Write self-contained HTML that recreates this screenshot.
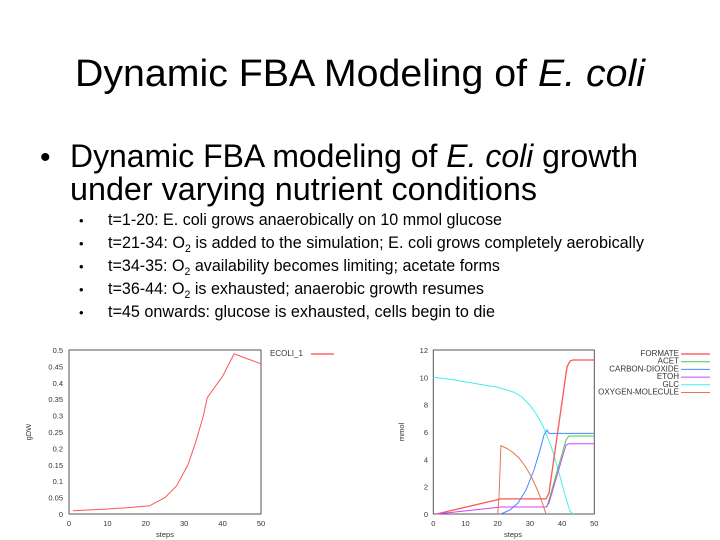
<!DOCTYPE html>
<html><head><meta charset="utf-8"><style>
html,body{margin:0;padding:0;background:#fff;}
svg{display:block;font-family:"Liberation Sans",sans-serif;}
</style></head><body>
<svg width="720" height="540" viewBox="0 0 720 540" xmlns="http://www.w3.org/2000/svg">
<text x="75" y="86" font-size="38" textLength="570" lengthAdjust="spacingAndGlyphs">Dynamic FBA Modeling of <tspan font-style="italic">E. coli</tspan></text>
<text x="40" y="167" font-size="30">•</text>
<text x="70" y="167" font-size="32" textLength="568" lengthAdjust="spacingAndGlyphs">Dynamic FBA modeling of <tspan font-style="italic">E. coli</tspan> growth</text>
<text x="70" y="200" font-size="32" textLength="467" lengthAdjust="spacingAndGlyphs">under varying nutrient conditions</text>
<g font-size="17">
<text x="79" y="225" font-size="13">•</text><text x="108" y="225" textLength="394" lengthAdjust="spacingAndGlyphs">t=1-20: E. coli grows anaerobically on 10 mmol glucose</text>
<text x="79" y="248" font-size="13">•</text><text x="108" y="248" textLength="536" lengthAdjust="spacingAndGlyphs">t=21-34: O<tspan font-size="11" dy="4">2</tspan><tspan dy="-4"> is added to the simulation; E. coli grows completely aerobically</tspan></text>
<text x="79" y="271" font-size="13">•</text><text x="108" y="271" textLength="392" lengthAdjust="spacingAndGlyphs">t=34-35: O<tspan font-size="11" dy="4">2</tspan><tspan dy="-4"> availability becomes limiting; acetate forms</tspan></text>
<text x="79" y="294" font-size="13">•</text><text x="108" y="294" textLength="376" lengthAdjust="spacingAndGlyphs">t=36-44: O<tspan font-size="11" dy="4">2</tspan><tspan dy="-4"> is exhausted; anaerobic growth resumes</tspan></text>
<text x="79" y="317" font-size="13">•</text><text x="108" y="317" textLength="387" lengthAdjust="spacingAndGlyphs">t=45 onwards: glucose is exhausted, cells begin to die</text>
</g>
<!-- left chart -->
<g font-size="7.5" fill="#333">
<rect x="69" y="350" width="192" height="164" fill="none" stroke="#555" stroke-width="1"/>
<g text-anchor="end">
<text x="63" y="517">0</text><text x="63" y="500.6">0.05</text><text x="63" y="484.2">0.1</text><text x="63" y="467.8">0.15</text><text x="63" y="451.4">0.2</text><text x="63" y="435">0.25</text><text x="63" y="418.6">0.3</text><text x="63" y="402.2">0.35</text><text x="63" y="385.8">0.4</text><text x="63" y="369.4">0.45</text><text x="63" y="353">0.5</text>
</g>
<g text-anchor="middle">
<text x="69" y="526">0</text><text x="107.4" y="526">10</text><text x="145.8" y="526">20</text><text x="184.2" y="526">30</text><text x="222.6" y="526">40</text><text x="261" y="526">50</text>
<text x="165" y="537">steps</text>
</g>
<text x="31" y="432" transform="rotate(-90 31 432)" text-anchor="middle">gDW</text>
<text x="270" y="356" font-size="8">ECOLI_1</text>
<line x1="311" y1="354" x2="334" y2="354" stroke="#f66" stroke-width="1.5"/>
<polyline fill="none" stroke="#f55" stroke-width="1" points="72.8,510.7 88,510 107.4,509 126.6,507.8 149.6,505.8 165,497.6 176.5,486 188,464.8 195.8,441.8 203.4,415.6 207.3,397.6 222.6,376.2 234.1,353.9 261,363.8"/>
</g>
<!-- right chart -->
<g font-size="7.5" fill="#333">
<rect x="433.3" y="350" width="161" height="164" fill="none" stroke="#555" stroke-width="1"/>
<g text-anchor="end">
<text x="428" y="517">0</text><text x="428" y="489.7">2</text><text x="428" y="462.3">4</text><text x="428" y="435">6</text><text x="428" y="407.7">8</text><text x="428" y="380.3">10</text><text x="428" y="353">12</text>
</g>
<g text-anchor="middle">
<text x="433.3" y="526">0</text><text x="465.5" y="526">10</text><text x="497.7" y="526">20</text><text x="529.9" y="526">30</text><text x="562.1" y="526">40</text><text x="594.3" y="526">50</text>
<text x="513" y="537">steps</text>
</g>
<text x="404" y="432" transform="rotate(-90 404 432)" text-anchor="middle">mmol</text>
<g text-anchor="end" font-size="8">
<text x="679" y="356">FORMATE</text><text x="679" y="363.7">ACET</text><text x="679" y="371.4">CARBON-DIOXIDE</text><text x="679" y="379.1">ETOH</text><text x="679" y="386.8">GLC</text><text x="679" y="394.5">OXYGEN-MOLECULE</text>
</g>
<line x1="681" y1="354" x2="710" y2="354" stroke="#f66" stroke-width="1.5"/>
<line x1="681" y1="361.7" x2="710" y2="361.7" stroke="#4c4" stroke-width="1"/>
<line x1="681" y1="369.4" x2="710" y2="369.4" stroke="#48f" stroke-width="1"/>
<line x1="681" y1="377.1" x2="710" y2="377.1" stroke="#c4f" stroke-width="1"/>
<line x1="681" y1="384.8" x2="710" y2="384.8" stroke="#4ee" stroke-width="1"/>
<line x1="681" y1="392.5" x2="710" y2="392.5" stroke="#d75" stroke-width="1"/>
<polyline fill="none" stroke="#4ee" stroke-width="1" points="433.3,377.3 449.4,379.3 465.5,381.9 481.6,384.6 497.7,387.3 513.8,392.1 522,397 529.9,405.3 537,415 543,426 547,436 551,446 556,462 561,480 565,495 568,505 570,511 573,514"/>
<polyline fill="none" stroke="#f55" stroke-width="1.3" points="436.5,514 497.7,499.6 500.9,498.9 546,498.9 549,493 567,367 570,361 573,360 594.3,360"/>
<polyline fill="none" stroke="#4c4" stroke-width="1" points="547,507 566,440 569,436 572,436 594.3,436"/>
<polyline fill="none" stroke="#48f" stroke-width="1" points="500.9,514 510,510 518,503 526,490 534,470 540,450 544,435 547,430 549,433.4 594.3,433.4"/>
<polyline fill="none" stroke="#c4f" stroke-width="1" points="436.5,514 497.7,507.4 500.9,507 546,507 549,503 566,445 569,443.7 594.3,443.7"/>
<polyline fill="none" stroke="#d75" stroke-width="1" points="497.7,514 499,498 500.9,445.7 507,448.5 513,452.5 519,458 525,466 531,476 537,489 541,499 546,514"/>
</g>
</svg>
</body></html>
